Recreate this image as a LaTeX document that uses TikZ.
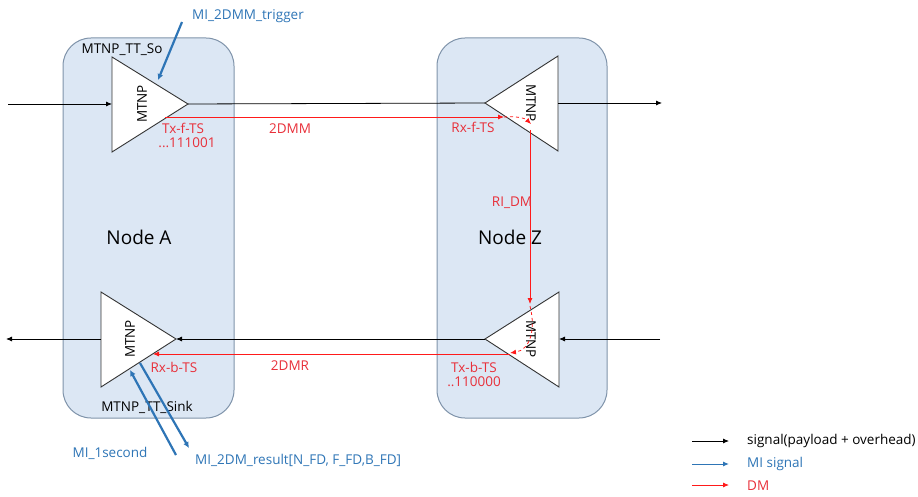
\documentclass[tikz,border=0pt]{standalone}
\usepackage{fontspec}
\setmainfont{Open Sans}
\usetikzlibrary{arrows.meta}
\definecolor{boxfill}{HTML}{DCE7F4}
\definecolor{boxline}{HTML}{7F93AA}
\definecolor{miblue}{HTML}{2E75B6}
\definecolor{dmred}{HTML}{FF1A1A}
\definecolor{txtred}{HTML}{E8303A}
\tikzset{
  nodebox/.style={draw=boxline, fill=boxfill, line width=1pt, rounded corners=28pt},
  tri/.style={draw=black!80, fill=white, line width=0.9pt},
  sig/.style={draw=black, line width=0.8pt, -{Latex[length=6pt,width=5pt]}},
  mi/.style={draw=miblue, line width=2.2pt, -{Latex[length=6pt,width=6pt]}},
  dm/.style={draw=dmred, line width=0.8pt, -{Latex[length=6pt,width=5pt]}},
  dmd/.style={draw=dmred, line width=0.8pt, dashed, -{Latex[length=6pt,width=5pt]}},
  lbl/.style={font=\fontsize{13.5}{15}\selectfont, inner sep=0pt},
  redlbl/.style={lbl, text=txtred},
  bluelbl/.style={lbl, text=miblue},
  big/.style={font=\fontsize{19}{21}\selectfont, inner sep=0pt},
}
\begin{document}
\begin{tikzpicture}[x=1pt,y=-1pt]
\useasboundingbox (0,0) rectangle (918,497);
% node boxes
\draw[nodebox] (63,38) rectangle (234,418);
\draw[nodebox] (437,38) rectangle (607,418);
% triangles
\coordinate (TLa) at (112,57); \coordinate (TLb) at (112,152); \coordinate (TLc) at (188,104);
\draw[tri] (TLa) -- (TLb) -- (TLc) -- cycle;
\coordinate (TRa) at (558,56); \coordinate (TRb) at (558,151); \coordinate (TRc) at (485,103);
\draw[tri] (TRa) -- (TRb) -- (TRc) -- cycle;
\coordinate (BLa) at (101,292); \coordinate (BLb) at (101,387); \coordinate (BLc) at (176,339);
\draw[tri] (BLa) -- (BLb) -- (BLc) -- cycle;
\coordinate (BRa) at (559,292); \coordinate (BRb) at (559,387); \coordinate (BRc) at (485,339);
\draw[tri] (BRa) -- (BRb) -- (BRc) -- cycle;
% MTNP labels
\node[lbl, rotate=90] (m1) at (142,104) {MTNP};
\node[lbl, rotate=-90] (m2) at (531,103) {MTNP};
\node[lbl, rotate=90] (m3) at (130,339) {MTNP};
\node[lbl, rotate=-90] (m4) at (531,339) {MTNP};
% node names
\node[big] (na) at (139,237) {Node A};
\node[big] (nz) at (510,237) {Node Z};
\node[lbl] (so) at (122,50) {MTNP\_TT\_So};
\node[lbl] (sink) at (147,407) {MTNP\_TT\_Sink};
% black signals
\coordinate (inA) at (8,104);
\coordinate (outZ) at (662,103);
\coordinate (inZ) at (660,339);
\coordinate (outA) at (6,339);
\draw[sig] (inA) -- (112,104);
\draw[draw=black, line width=0.8pt] (TLc) -- (TRc);
\draw[sig] (558,103) -- (outZ);
\draw[sig] (inZ) -- (559,339);
\draw[sig] (BRc) -- (BLc);
\draw[sig] (101,339) -- (outA);
% red DM
\coordinate (txf) at (165,117); \coordinate (rxf) at (504,117);
\draw[dm] (txf) -- (rxf);
\coordinate (dz1) at (531,124);
\draw[dmd] (rxf) .. controls (515,116) and (525,118) .. (dz1);
\coordinate (dz2) at (530,304);
\draw[dm] (530,130) -- (dz2);
\coordinate (txb) at (510,353); \coordinate (rxb) at (153,354);
\draw[dmd] (530,306) .. controls (536,330) and (530,350) .. (txb);
\draw[dm] (510,354) -- (rxb);
% red labels
\node[redlbl] (l1) at (183,128) {Tx-f-TS};
\node[redlbl] (l2) at (187,143) {...111001};
\node[redlbl] (l3) at (290,129) {2DMM};
\node[redlbl] (l4) at (473,127) {Rx-f-TS};
\node[redlbl] (l5) at (512,203) {RI\_DM};
\node[redlbl] (l6) at (174,367) {Rx-b-TS};
\node[redlbl] (l7) at (290,366) {2DMR};
\node[redlbl] (l8) at (474,367) {Tx-b-TS};
\node[redlbl] (l9) at (474,382) {..110000};
% blue MI
\node[bluelbl] (trig) at (248,16) {MI\_2DMM\_trigger};
\coordinate (t1) at (182,22); \coordinate (t2) at (158,80);
\draw[mi] (t1) -- (t2);
\coordinate (s1) at (176,455); \coordinate (s2) at (130,370);
\draw[mi] (s1) -- (s2);
\coordinate (r1) at (140,363); \coordinate (r2) at (189,448);
\draw[mi] (r1) -- (r2);
\node[bluelbl] (sec) at (110,453) {MI\_1second};
\node[bluelbl, anchor=west] (res) at (195,460) {MI\_2DM\_result[N\_FD, F\_FD,B\_FD]};
% legend
\coordinate (k1a) at (692,441); \coordinate (k1b) at (729,441);
\coordinate (k2a) at (692,464); \coordinate (k2b) at (729,464);
\coordinate (k3a) at (692,485); \coordinate (k3b) at (729,485);
\draw[sig] (k1a) -- (k1b);
\draw[draw=miblue, line width=1pt, -{Latex[length=6pt,width=5pt]}] (k2a) -- (k2b);
\draw[dm] (k3a) -- (k3b);
\node[lbl, anchor=west] (g1) at (747,441) {signal(payload + overhead)};
\node[bluelbl, anchor=west] (g2) at (747,464) {MI signal};
\node[redlbl, anchor=west] (g3) at (747,486) {DM};
\end{tikzpicture}
\end{document}
